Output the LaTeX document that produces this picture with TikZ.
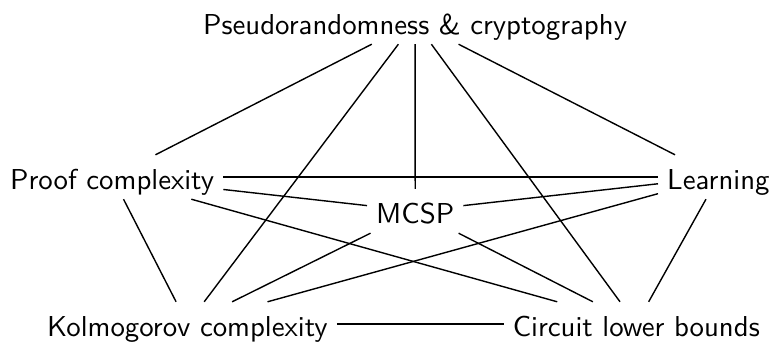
\documentclass[tikz,border=0pt]{standalone}
\usepackage{fontspec}
\newfontfamily\lmsstext{lmsans10-regular.otf}
\begin{document}
\begin{tikzpicture}[x=1pt,y=-1pt,
  lbl/.style={font=\lmsstext\fontsize{28.8}{34}\selectfont, text height=24pt, text depth=0pt,
    inner xsep=9pt, inner ysep=10pt},
  edge/.style={line width=1.4pt}]
\useasboundingbox (0,0) rectangle (769,341);
\node[lbl, anchor=base west] (pr) at (194,34) {Pseudorandomness \& cryptography};
\node[lbl, anchor=base west] (pc) at (1,189) {Proof complexity};
\node[lbl, anchor=base west] (le) at (658,189) {Learning};
\node[lbl, anchor=base west] (mc) at (367,223) {MCSP};
\node[lbl, anchor=base west] (ko) at (38,336) {Kolmogorov complexity};
\node[lbl, anchor=base east] (cl) at (769,336) {Circuit lower bounds};
\draw[edge] (pr) -- (pc);
\draw[edge] (pr) -- (ko);
\draw[edge] (pr) -- (mc);
\draw[edge] (pr) -- (cl);
\draw[edge] (pr) -- (le);
\draw[edge] (pc) -- (le);
\draw[edge] (pc) -- (mc);
\draw[edge] (pc) -- (cl);
\draw[edge] (pc) -- (ko);
\draw[edge] (le) -- (mc);
\draw[edge] (le) -- (ko);
\draw[edge] (le) -- (cl);
\draw[edge] (mc) -- (ko);
\draw[edge] (mc) -- (cl);
\draw[edge] (ko) -- (cl);
\end{tikzpicture}
\end{document}
